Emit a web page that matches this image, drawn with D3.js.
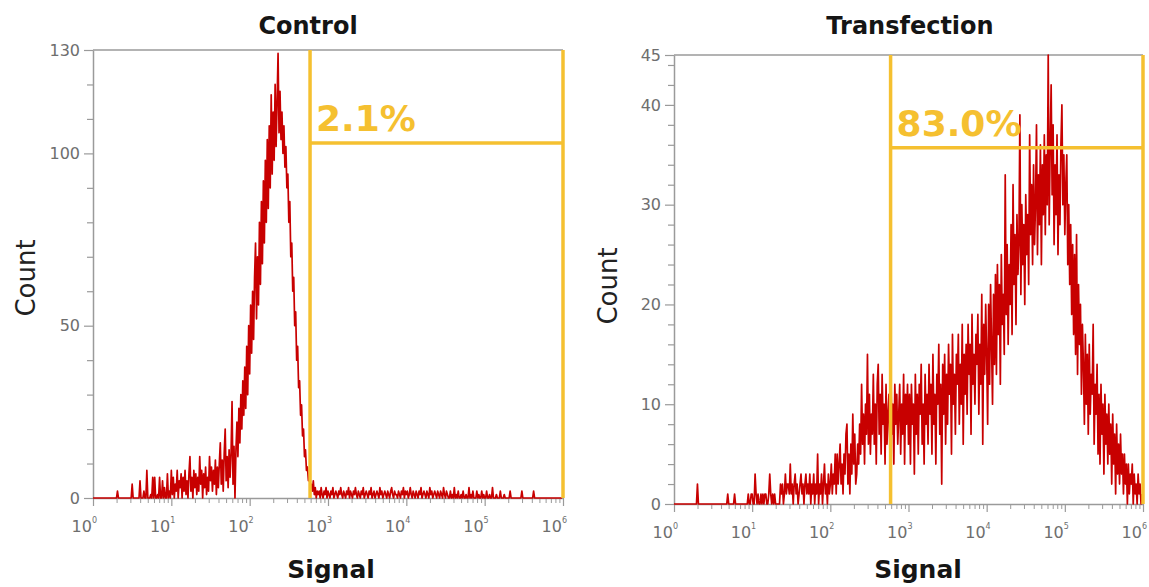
<!DOCTYPE html>
<html><head><meta charset="utf-8">
<script src="https://cdn.jsdelivr.net/npm/d3@7"></script>
<style>body{margin:0;background:#fff;}svg{display:block;}</style>
</head><body>
<svg id="chart" width="1149" height="587"></svg>
<script>
// ---------------- data ----------------
const panelTitles = ["Control", "Transfection"];
const binsPerDecade = 80;            // histogram channels per decade of signal
const decadeTicks = [0, 1, 2, 3, 4, 5, 6]; // x tick exponents (10^k)

const controlCounts = [
  // decade 0
  0,0,0,0,0,0,0,0,0,0,
  0,0,0,0,0,0,0,0,0,0,
  0,0,0,0,0,2,0,0,0,0,
  0,0,0,0,0,0,0,0,0,0,
  4,0,0,0,0,0,0,0,5,0,
  0,0,2,0,0,8,0,0,0,1,
  0,6,0,6,0,0,1,0,6,0,
  0,5,0,3,0,0,7,0,2,0,
  // decade 1
  8,1,6,0,4,2,8,0,5,3,
  7,0,6,2,8,1,5,0,7,12,
  2,6,0,8,3,7,1,6,2,12,
  4,8,0,7,3,9,1,6,2,12,
  5,9,2,8,4,11,1,9,3,10,
  16,4,11,2,13,20,5,12,3,14,
  6,13,28,4,15,0,14,22,12,26,
  16,30,20,34,24,38,26,44,30,50,
  // decade 2
  36,56,42,60,46,64,74,52,70,56,
  80,62,86,68,92,74,98,80,104,84,
  108,90,117,94,112,98,120,102,115,129,
  106,118,104,112,100,108,96,102,90,94,
  80,86,70,74,60,64,50,54,40,44,
  32,34,24,27,18,20,12,14,8,9,
  5,6,3,4,2,5,1,3,0,2,
  1,2,0,3,1,0,2,1,3,0,
  // decade 3
  2,1,0,2,1,3,0,1,2,1,
  0,2,1,3,1,0,2,1,0,2,
  1,3,0,2,1,0,2,1,3,1,
  0,2,1,0,2,1,3,0,1,2,
  1,0,2,1,3,0,1,2,0,1,
  2,1,0,3,1,2,0,1,2,1,
  0,2,1,0,2,3,1,0,2,1,
  1,0,2,1,0,2,1,3,0,2,
  // decade 4
  1,2,0,1,3,1,0,2,1,0,
  2,1,0,2,1,3,0,1,2,1,
  0,2,1,0,3,1,2,0,1,2,
  1,0,2,1,0,2,1,0,3,1,
  0,2,1,0,0,2,0,1,0,3,
  0,1,0,2,0,0,1,0,2,0,
  0,1,0,0,3,0,1,0,2,0,
  0,0,2,0,1,0,0,2,0,1,
  // decade 5
  0,0,2,0,0,1,0,0,3,0,
  0,0,1,0,0,0,2,0,0,0,
  1,0,0,0,0,0,2,0,0,0,
  0,0,0,0,0,0,0,0,2,0,
  0,0,0,0,0,0,0,0,0,0,
  2,0,0,0,0,0,0,0,0,0,
  0,0,0,0,0,0,0,0,0,0,
  0,0,0,0,0,0,0,0,0,0
];

const transfectionCounts = [
  // decade 0
  0,0,0,0,0,0,0,0,0,0,
  0,0,0,0,0,0,0,0,0,0,
  0,0,0,0,2,0,0,0,0,0,
  0,0,0,0,0,0,0,0,0,0,
  0,0,0,0,0,0,0,0,0,0,
  0,0,0,0,0,1,0,0,0,0,
  0,0,1,0,0,0,0,0,0,0,
  0,0,0,0,0,0,1,0,0,1,
  // decade 1
  1,0,0,3,1,0,1,0,0,1,
  0,1,0,1,1,0,0,1,3,1,
  0,1,0,1,0,0,0,0,0,2,
  1,2,0,1,3,1,2,2,1,4,
  1,2,0,2,3,1,2,0,1,2,
  3,1,2,0,2,3,1,2,1,3,
  0,2,1,3,0,2,1,5,0,2,
  1,3,0,2,4,1,2,0,3,1,
  // decade 2
  2,4,1,3,2,5,1,5,2,4,
  6,2,4,1,5,3,7,8,2,5,
  1,6,3,9,4,7,2,3,6,4,
  8,5,12,6,9,4,10,7,15,6,
  11,5,9,7,13,6,10,4,12,14,
  7,11,5,13,8,10,4,12,6,9,
  11,5,13,7,10,4,12,8,11,6,
  9,12,5,10,7,13,4,11,8,12,
  // decade 3
  6,11,4,12,8,10,3,13,7,11,
  5,12,9,14,6,10,4,13,8,11,
  6,14,9,12,5,15,8,11,4,13,
  10,16,7,12,2,14,9,15,6,13,
  8,16,11,14,5,17,10,13,7,15,
  12,17,8,14,10,18,6,15,11,16,
  9,18,13,16,7,19,12,15,10,17,
  14,19,9,16,12,21,6,18,13,20,
  // decade 4
  15,8,20,12,22,16,10,21,14,23,
  13,24,17,22,12,25,18,21,15,33,
  19,26,16,24,20,28,17,32,22,27,
  18,29,23,26,39,21,30,24,28,20,
  31,25,29,22,37,27,32,24,34,26,
  30,38,25,33,28,36,24,34,29,37,
  27,35,30,45,28,36,42,31,38,26,
  34,29,37,25,33,28,36,40,30,35,
  // decade 5
  27,32,35,24,30,22,28,19,26,17,
  25,15,27,13,22,16,20,11,18,14,
  8,17,10,15,7,16,9,13,11,18,
  6,12,9,14,5,11,4,12,7,10,
  3,11,6,9,4,10,5,8,2,9,
  4,7,1,8,3,6,2,7,3,5,
  1,5,2,4,0,4,1,3,2,4,
  0,3,1,2,0,3,1,2,0,1
];

const yMaxValues = [130, 45];
const yMajorTicks = [[0, 50, 100, 130], [0, 10, 20, 30, 40, 45]];
const yMinorTicks = [
  [10, 20, 30, 40, 60, 70, 80, 90, 110, 120],
  [2, 4, 6, 8, 12, 14, 16, 18, 22, 24, 26, 28, 32, 34, 36, 38, 42, 44]
];
const gateStart = [590, 590];
const gateEnd = [1e6, 1e6];
const gateLevel = [103, 35.7];
const gateLabels = ["2.1%", "83.0%"];
const xAxisLabel = "Signal";
const yAxisLabel = "Count";

// ---------------- layout ----------------
const layouts = [
  {left: 93, right: 563, top: 50, bottom: 498, titleX: 308, countX: 26, countY: 278, signalX: 331},
  {left: 674, right: 1143, top: 55, bottom: 504, titleX: 910, countX: 608, countY: 286, signalX: 918}
];
const seriesList = [controlCounts, transfectionCounts];
const RED = "#c80000", GOLD = "#f5c030", AXIS = "#9a9a9a", TICKTXT = "#6e6e6e";
const FONT = "'DejaVu Sans', Verdana, sans-serif";

const svg = d3.select("#chart");

layouts.forEach((L, p) => {
  const g = svg.append("g");
  const x = d3.scaleLog().domain([1, 1e6]).range([L.left, L.right]);
  const y = d3.scaleLinear().domain([0, yMaxValues[p]]).range([L.bottom, L.top]);

  // top border
  g.append("line").attr("x1", L.left).attr("x2", L.right).attr("y1", L.top).attr("y2", L.top)
    .attr("stroke", AXIS).attr("stroke-width", 1.5);

  // y axis major
  const yAx = g.append("g").attr("transform", `translate(${L.left},0)`)
    .call(d3.axisLeft(y).tickValues(yMajorTicks[p]).tickSize(9).tickSizeOuter(0).tickPadding(4));
  yAx.select(".domain").attr("stroke", AXIS).attr("stroke-width", 1.5);
  yAx.selectAll(".tick line").attr("stroke", AXIS).attr("stroke-width", 1.2);
  yAx.selectAll(".tick text").attr("fill", TICKTXT).style("font-family", FONT).style("font-size", "16px");
  // y axis minor
  const yMin = g.append("g").attr("transform", `translate(${L.left},0)`)
    .call(d3.axisLeft(y).tickValues(yMinorTicks[p]).tickSize(6).tickSizeOuter(0).tickFormat(""));
  yMin.select(".domain").remove();
  yMin.selectAll(".tick line").attr("stroke", AXIS).attr("stroke-width", 1.2);

  // x axis majors
  const xAx = g.append("g").attr("transform", `translate(0,${L.bottom})`)
    .call(d3.axisBottom(x).tickValues(decadeTicks.map(k => Math.pow(10, k))).tickSize(8).tickSizeOuter(0).tickFormat(""));
  xAx.select(".domain").attr("stroke", AXIS).attr("stroke-width", 1.5);
  xAx.selectAll(".tick line").attr("stroke", AXIS).attr("stroke-width", 1.2);
  // x minors
  const minors = [];
  decadeTicks.slice(0, -1).forEach(k => { for (let m = 2; m <= 9; m++) minors.push(m * Math.pow(10, k)); });
  const xMin = g.append("g").attr("transform", `translate(0,${L.bottom})`)
    .call(d3.axisBottom(x).tickValues(minors).tickSize(5).tickSizeOuter(0).tickFormat(""));
  xMin.select(".domain").remove();
  xMin.selectAll(".tick line").attr("stroke", AXIS).attr("stroke-width", 1);
  // decade labels 10^k
  decadeTicks.forEach(k => {
    const t = g.append("text").attr("x", x(Math.pow(10, k)) + 4).attr("y", L.bottom + 34)
      .attr("text-anchor", "end").attr("fill", TICKTXT)
      .style("font-family", FONT).style("font-size", "16px");
    t.append("tspan").text("10");
    t.append("tspan").attr("dy", -9).style("font-size", "8px").text(k);
  });

  // histogram line
  const counts = seriesList[p];
  const line = d3.line()
    .x((d, i) => x(Math.pow(10, i / binsPerDecade)))
    .y(d => y(d));
  g.append("path").datum(counts).attr("d", line)
    .attr("fill", "none").attr("stroke", RED).attr("stroke-width", 1.7).attr("stroke-linejoin", "round");

  // gate
  const gx0 = x(gateStart[p]), gx1 = x(gateEnd[p]), gy = y(gateLevel[p]);
  const gate = g.append("g").attr("stroke", GOLD).attr("stroke-width", 3.5).attr("fill", "none");
  gate.append("line").attr("x1", gx0).attr("x2", gx0).attr("y1", L.top).attr("y2", L.bottom);
  gate.append("line").attr("x1", gx1).attr("x2", gx1).attr("y1", L.top).attr("y2", L.bottom);
  gate.append("line").attr("x1", gx0).attr("x2", gx1).attr("y1", gy).attr("y2", gy);
  g.append("text").attr("x", gx0 + 6).attr("y", gy - 12).text(gateLabels[p])
    .attr("fill", GOLD).style("font-family", FONT).style("font-weight", "bold").style("font-size", "36px");

  // titles and axis labels
  g.append("text").attr("x", L.titleX).attr("y", 34).attr("text-anchor", "middle").text(panelTitles[p])
    .attr("fill", "#151515").style("font-family", FONT).style("font-weight", "bold").style("font-size", "24px");
  g.append("text").attr("x", L.signalX).attr("y", 578).attr("text-anchor", "middle").text(xAxisLabel)
    .attr("fill", "#151515").style("font-family", FONT).style("font-weight", "bold").style("font-size", "25px");
  g.append("text").attr("transform", `translate(${L.countX},${L.countY}) rotate(-90)`)
    .attr("text-anchor", "middle").attr("dy", "0.35em").text(yAxisLabel)
    .attr("fill", "#222").style("font-family", FONT).style("font-size", "26px");
});
</script>
</body></html>
